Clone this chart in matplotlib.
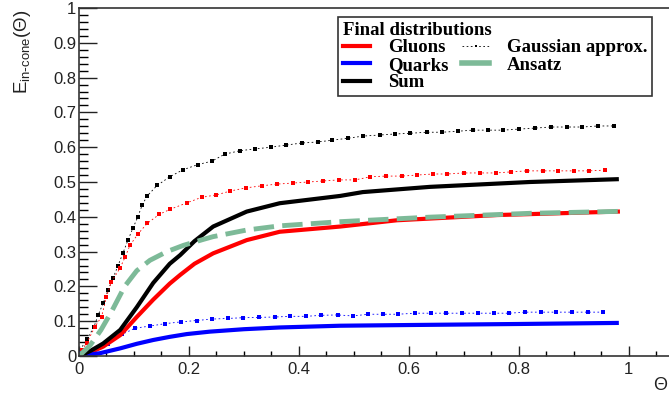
import numpy as np
import matplotlib.pyplot as plt
from matplotlib.lines import Line2D
from matplotlib.ticker import MultipleLocator

# Gaussian approx. (dotted) -- sum, gluons, quarks
gs_x = [0.002, 0.015, 0.027, 0.035, 0.044, 0.053, 0.062, 0.071, 0.080, 0.089, 0.098, 0.107,
        0.115, 0.124, 0.142, 0.165, 0.189, 0.216, 0.242, 0.265, 0.293, 0.32, 0.349, 0.376,
        0.405, 0.434, 0.46, 0.49, 0.517, 0.547, 0.575, 0.602, 0.632, 0.66, 0.69, 0.716,
        0.744, 0.771, 0.80, 0.83, 0.858, 0.887, 0.915, 0.944, 0.973]
gs_y = [0.017, 0.05, 0.083, 0.118, 0.152, 0.19, 0.224, 0.26, 0.296, 0.333, 0.367, 0.40,
        0.434, 0.46, 0.49, 0.515, 0.535, 0.55, 0.56, 0.58, 0.59, 0.595, 0.60, 0.606,
        0.612, 0.615, 0.62, 0.626, 0.632, 0.635, 0.638, 0.64, 0.643, 0.643, 0.646, 0.649,
        0.649, 0.649, 0.652, 0.655, 0.658, 0.658, 0.658, 0.661, 0.661]

gg_x = [0.005, 0.014, 0.029, 0.041, 0.05, 0.059, 0.0745, 0.084, 0.093, 0.108, 0.124, 0.146,
        0.165, 0.196, 0.223, 0.25, 0.275, 0.303, 0.332, 0.36, 0.389, 0.417, 0.444, 0.472,
        0.502, 0.53, 0.558, 0.587, 0.615, 0.644, 0.67, 0.70, 0.73, 0.758, 0.785, 0.815,
        0.844, 0.871, 0.9, 0.927, 0.956]
gg_y = [0.017, 0.037, 0.084, 0.113, 0.17, 0.214, 0.252, 0.285, 0.319, 0.352, 0.381, 0.407,
        0.421, 0.44, 0.456, 0.463, 0.474, 0.483, 0.489, 0.494, 0.497, 0.5, 0.503, 0.506,
        0.506, 0.515, 0.517, 0.517, 0.52, 0.523, 0.523, 0.526, 0.526, 0.526, 0.529, 0.532,
        0.532, 0.532, 0.532, 0.532, 0.534]

gq_x = [0.0, 0.025, 0.053, 0.078, 0.102, 0.129, 0.157, 0.185, 0.214, 0.241, 0.271, 0.299,
        0.327, 0.356, 0.384, 0.413, 0.441, 0.471, 0.498, 0.526, 0.553, 0.58, 0.611, 0.64,
        0.668, 0.697, 0.726, 0.755, 0.782, 0.811, 0.84, 0.868, 0.897, 0.925, 0.953]
gq_y = [0.01, 0.018, 0.035, 0.062, 0.08, 0.086, 0.093, 0.098, 0.102, 0.106, 0.108, 0.11,
        0.111, 0.112, 0.114, 0.114, 0.117, 0.118, 0.115, 0.12, 0.12, 0.12, 0.123, 0.123,
        0.123, 0.123, 0.123, 0.123, 0.123, 0.126, 0.126, 0.126, 0.126, 0.126, 0.126]

# Final distributions (solid)
glu_x = [0.0, 0.02, 0.044, 0.075, 0.105, 0.135, 0.165, 0.184, 0.21, 0.244, 0.305, 0.365,
         0.475, 0.578, 0.76, 0.98]
glu_y = [0.0, 0.01, 0.027, 0.06, 0.112, 0.162, 0.208, 0.233, 0.265, 0.295, 0.333, 0.357,
         0.372, 0.39, 0.405, 0.415]

qrk_x = [0.0, 0.038, 0.075, 0.105, 0.135, 0.165, 0.196, 0.238, 0.3, 0.365, 0.475, 0.6,
         0.8, 0.978]
qrk_y = [0.0, 0.008, 0.022, 0.035, 0.046, 0.055, 0.063, 0.07, 0.077, 0.082, 0.087, 0.089,
         0.092, 0.095]

sum_x = [0.0, 0.02, 0.044, 0.075, 0.105, 0.135, 0.165, 0.184, 0.21, 0.244, 0.305, 0.365,
         0.475, 0.516, 0.638, 0.82, 0.978]
sum_y = [0.0, 0.014, 0.036, 0.075, 0.14, 0.21, 0.265, 0.29, 0.33, 0.372, 0.415, 0.439,
         0.46, 0.471, 0.486, 0.50, 0.508]

ans_x = [0.0, 0.02, 0.04, 0.06, 0.083, 0.105, 0.129, 0.16, 0.19, 0.226, 0.244, 0.305,
         0.365, 0.475, 0.638, 0.82, 0.993]
ans_y = [0.0, 0.03, 0.075, 0.13, 0.2, 0.245, 0.275, 0.30, 0.318, 0.335, 0.343, 0.362,
         0.374, 0.386, 0.399, 0.41, 0.416]

green = '#7dba98'

fig = plt.figure(figsize=(6.69, 3.95), dpi=100)
ax = fig.add_axes([79/669, 1 - 356/395, 590/669, 348/395])

# dotted gaussian curves: thin dashed line + small square marks
for x, y, c in [(gs_x, gs_y, 'black'), (gg_x, gg_y, 'red'), (gq_x, gq_y, 'blue')]:
    ax.plot(x, y, color=c, lw=0.6, ls=(0, (2, 3)), marker='s', ms=2.8, mew=0)

ax.plot(glu_x, glu_y, color='red', lw=3)
ax.plot(qrk_x, qrk_y, color='blue', lw=3)
ax.plot(sum_x, sum_y, color='black', lw=3)
ax.plot(ans_x, ans_y, color=green, lw=3.5, dashes=(4.2, 1.7))

ax.set_xlim(0, 1.073)
ax.set_ylim(0, 1)
ax.xaxis.set_major_locator(MultipleLocator(0.2))
ax.xaxis.set_minor_locator(MultipleLocator(0.05))
ax.yaxis.set_major_locator(MultipleLocator(0.1))
ax.yaxis.set_minor_locator(MultipleLocator(0.02))
ax.xaxis.set_major_formatter(lambda v, p: '%g' % round(v, 2))
ax.yaxis.set_major_formatter(lambda v, p: '%g' % round(v, 2))

ax.tick_params(axis='y', which='major', direction='in', length=13, width=1, labelsize=12,
               pad=2, colors='#222222')
ax.tick_params(axis='y', which='minor', direction='in', length=6.5, width=1)
ax.tick_params(axis='x', which='major', direction='in', length=7.5, width=1, labelsize=12,
               pad=4, colors='#222222')
ax.tick_params(axis='x', which='minor', direction='in', length=3.3, width=1)
for lab in ax.get_xticklabels() + ax.get_yticklabels():
    lab.set_family('Liberation Sans')

ax.spines['right'].set_visible(False)
for s in ['left', 'bottom', 'top']:
    ax.spines[s].set_linewidth(1.2)
    ax.spines[s].set_color('#333333')

ax.set_xlabel('Θ', loc='right', fontsize=13, family='Liberation Sans', color='#222222')
ax.xaxis.set_label_coords(0.997, -0.06)
ax.set_ylabel(r'E$_{\mathregular{in\text{-}cone}}$($\mathregular{\Theta}$)', loc='top',
              fontsize=13.5, family='Liberation Sans', color='#222222')
ax.yaxis.set_label_coords(-0.078, 0.995)

handles = [Line2D([], [], color='red', lw=3),
           Line2D([], [], color='blue', lw=3),
           Line2D([], [], color='black', lw=3),
           Line2D([], [], color='black', lw=0.6, ls=(0, (2, 3)), marker='s', ms=2, mew=0),
           Line2D([], [], color=green, lw=4)]
labels = ['Gluons', 'Quarks', 'Sum', 'Gaussian approx.', 'Ansatz']
fp = {'family': 'Liberation Serif', 'weight': 'bold', 'size': 13.5}
leg = ax.legend(handles, labels, ncol=2, loc='upper left', bbox_to_anchor=(0.439, 0.974),
                title='Final distributions', alignment='left', prop=fp,
                title_fontproperties=fp, frameon=True, fancybox=False,
                edgecolor='black', borderpad=0.25, labelspacing=0.02, handlelength=1.45,
                handletextpad=0.95, columnspacing=0.75, borderaxespad=0)
leg.get_frame().set_linewidth(1.2)

fig.savefig('out.png', dpi=100)
